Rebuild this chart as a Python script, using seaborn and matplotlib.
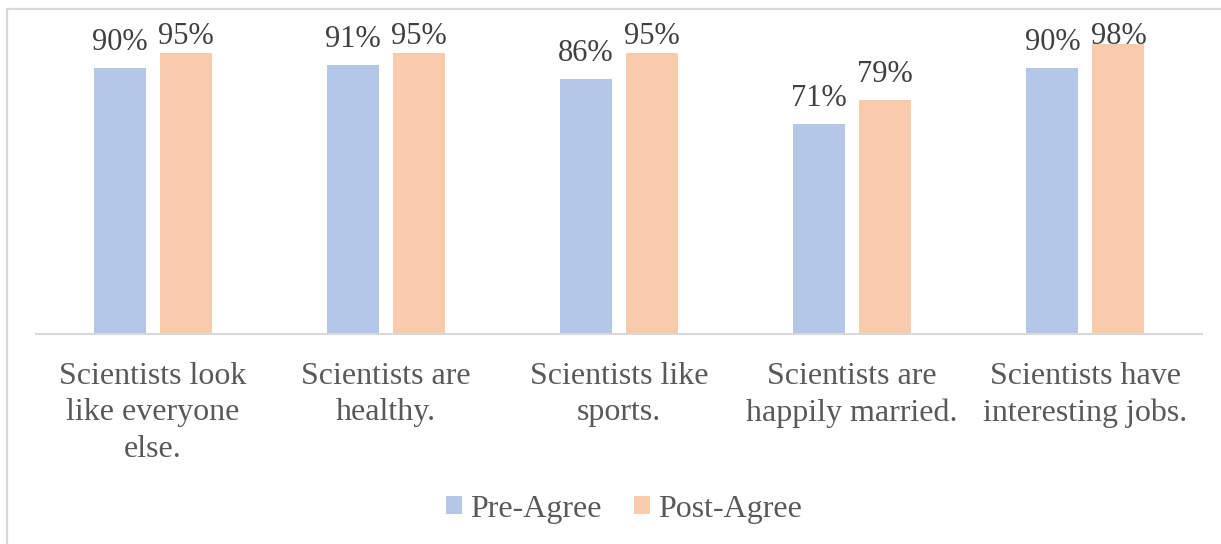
import matplotlib
matplotlib.use("Agg")
import matplotlib.pyplot as plt
from matplotlib.lines import Line2D
import seaborn as sns
import pandas as pd

# Survey statements and share of students agreeing
statements = [
    "Scientists look\nlike everyone\nelse.",
    "Scientists are\nhealthy.",
    "Scientists like\nsports.",
    "Scientists are\nhappily married.",
    "Scientists have\ninteresting jobs.",
]
pre_agree = [0.90, 0.91, 0.86, 0.71, 0.90]
post_agree = [0.95, 0.95, 0.95, 0.79, 0.98]
series_names = ["Pre-Agree", "Post-Agree"]
series_colors = ["#B4C7E7", "#F8CBAD"]

df = pd.DataFrame({
    "statement": statements * 2,
    "share": pre_agree + post_agree,
    "series": [series_names[0]] * len(statements) + [series_names[1]] * len(statements),
})

sns.set_theme(style="white")
plt.rcParams["font.family"] = ["Liberation Serif", "DejaVu Serif"]

W, H = 1221, 544
fig = plt.figure(figsize=(W / 100, H / 100), dpi=100)
ax = fig.add_axes([36 / W, 1 - 334 / H, (1202 - 36) / W, (334 - 38) / H])

sns.barplot(
    data=df, x="statement", y="share", hue="series",
    palette=series_colors, width=0.566, gap=0.21,
    saturation=1, linewidth=0, ax=ax, legend=True,
)

ax.set_ylim(0, 1)
ax.set_xlim(-0.5, len(statements) - 0.5)
ax.set_xlabel("")
ax.set_ylabel("")
ax.set_yticks([])
for side in ["top", "right", "left"]:
    ax.spines[side].set_visible(False)
ax.spines["bottom"].set_color("#D9D9D9")
ax.spines["bottom"].set_linewidth(1.5)
ax.tick_params(axis="x", length=0, pad=20, labelsize=23, labelcolor="#595959")
for lbl in ax.get_xticklabels():
    lbl.set_linespacing(1.34)

# Value labels above each bar, kept inside the plot area near the top
label_cap = 0.98
for container in ax.containers:
    for bar in container:
        v = bar.get_height()
        x = bar.get_x() + bar.get_width() / 2
        y = min(v + 18 / 296, label_cap)
        ax.text(x, y, f"{v * 100:.0f}%", ha="center", va="baseline",
                fontsize=22, color="#404040", clip_on=False)

# Legend below the chart
handles, labels = ax.get_legend_handles_labels()
ax.get_legend().remove()
fig.legend(handles, labels, loc="center", bbox_to_anchor=(624 / W, 1 - 509 / H),
           ncol=2, frameon=False, fontsize=23, labelcolor="#595959",
           handlelength=0.5, handleheight=0.5, handletextpad=0.25,
           columnspacing=1.0, borderpad=0)

# Chart-area frame edges
fig.add_artist(Line2D([7 / W, 7 / W], [0, 1 - 9 / H], transform=fig.transFigure,
                      color="#D9D9D9", linewidth=1.6))
fig.add_artist(Line2D([7 / W, 1], [1 - 9 / H, 1 - 9 / H], transform=fig.transFigure,
                      color="#D9D9D9", linewidth=1.6))

fig.savefig("out.png", dpi=100, facecolor="white")
